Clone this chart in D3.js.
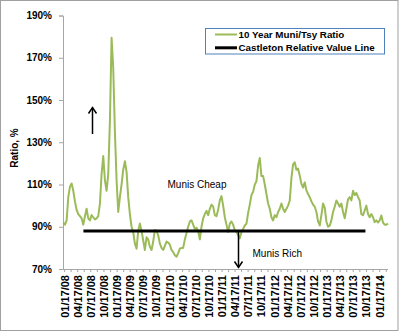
<!DOCTYPE html>
<html>
<head>
<meta charset="utf-8">
<script src="https://cdn.jsdelivr.net/npm/d3@7/dist/d3.min.js"></script>
<style>
  html, body { margin: 0; padding: 0; background: #fff; }
  svg { display: block; font-family: "Liberation Sans", Arial, sans-serif; }
</style>
</head>
<body>
<svg id="chart" width="400" height="333"></svg>
<script>
// ---- Data ----
const firstObs = "2008-01-08";
const lastObs = "2014-03-16";
const ratio = [
  92, 91, 93, 104, 109, 110.5, 107, 102, 98, 96, 95, 94, 91, 95, 98.5, 94, 93, 95.5, 94.5, 93.5,
  94, 95, 101, 115, 123.5, 112, 107, 115, 140, 179.5, 165, 135, 112, 97, 104, 110, 117, 121, 116, 104,
  96, 90,
  87.4, 82, 79.6, 88, 91.5, 88, 83.5, 79, 85, 84, 80.5, 79, 83, 88.5, 88, 86, 82, 80, 79, 81,
  83, 82.5, 81.5, 79, 78, 76.5, 75.8, 77.5, 79.6, 80, 80, 84, 87, 90, 92.5, 93, 91, 89, 89.5, 88, 84,
  90, 94, 96, 97.5, 95.5, 98.5, 100.5, 99.5, 95.5, 95, 98, 102.5, 104.5, 100, 94.5, 91, 87.5, 91.5,
  92.5, 91, 88.2, 87.5, 86, 84.5, 87.5, 89, 90.6, 91.5, 96.5, 100.5, 105, 106.5, 110, 111.5, 119, 122.5, 114, 114,
  110, 105.5, 101, 98.5, 94.5, 93, 95.5, 94.5, 97, 98.5, 101, 98.5, 97, 98.5, 100, 102.4, 113, 119.5, 120.5, 117,
  117.5, 114.3, 110.3, 108.5, 111, 107.2, 105.5, 104, 102, 100.5, 99.5, 97, 92.5, 90.6,
  95.5, 101, 99, 92.5, 90, 90.5, 93, 97, 99.5, 102.4, 101, 99.5, 101, 97, 94, 98.5, 103, 104, 102.5, 107,
  105, 106, 104, 102.4, 96, 95.5, 97.7, 100, 96, 94.5, 96, 94.5, 92.2, 93, 92, 93, 95.3, 92, 91, 91, 91.5
];
const valueLineLevel = 88;
const valueLineStart = "2008-05-27";
const valueLineEnd = "2013-10-10";
const xTickLabels = [
  "2008-01-17","2008-04-17","2008-07-17","2008-10-17",
  "2009-01-17","2009-04-17","2009-07-17","2009-10-17",
  "2010-01-17","2010-04-17","2010-07-17","2010-10-17",
  "2011-01-17","2011-04-17","2011-07-17","2011-10-17",
  "2012-01-17","2012-04-17","2012-07-17","2012-10-17",
  "2013-01-17","2013-04-17","2013-07-17","2013-10-17",
  "2014-01-17"
];
const yTicks = [70, 90, 110, 130, 150, 170, 190];
const seriesNames = ["10 Year Muni/Tsy Ratio", "Castleton Relative Value Line"];
const annotations = { cheap: "Munis Cheap", rich: "Munis Rich" };
const yTitle = "Ratio, %";

// ---- Drawing ----
const parse = d3.timeParse("%Y-%m-%d");
const fmt = d3.timeFormat("%m/%d/%y");
const svg = d3.select("#chart");
const green = "#9bbb59";

const x = d3.scaleTime()
  .domain([parse("2008-01-06"), parse("2014-03-16")])
  .range([63, 388]);
const y = d3.scaleLinear().domain([70, 190]).range([269, 15.5]);

const t0 = parse(firstObs).getTime(), t1 = parse(lastObs).getTime();
const data = ratio.map((v, i) => ({
  date: new Date(t0 + (t1 - t0) * i / (ratio.length - 1)),
  v
}));

// outer border
svg.append("rect").attr("x", 0.5).attr("y", 0.5).attr("width", 397.5).attr("height", 330)
  .attr("fill", "none").attr("stroke", "#a0a0a0").attr("stroke-width", 1);

// Y axis
const yAxis = svg.append("g").attr("transform", "translate(63,0)")
  .call(d3.axisLeft(y).tickValues(yTicks).tickSize(4).tickPadding(7).tickFormat(d => d + "%"));
yAxis.select(".domain").attr("stroke", "#a6a6a6");
yAxis.selectAll(".tick line").attr("stroke", "#a6a6a6");
yAxis.selectAll("text").attr("font-size", 10).attr("font-weight", "bold").attr("fill", "#000")
  .attr("font-family", "'Liberation Sans', Arial, sans-serif");

// X axis
const labelDates = xTickLabels.map(parse);
const tickXs = [];
labelDates.forEach((d, i) => {
  tickXs.push(x(d));
  const next = i < labelDates.length - 1 ? x(labelDates[i + 1]) : x(d) + (x(d) - x(labelDates[i - 1]));
  const mid = (x(d) + next) / 2;
  if (mid <= 388) tickXs.push(mid);
});
const xAxis = svg.append("g").attr("transform", "translate(0,269)");
xAxis.append("line").attr("x1", 63).attr("x2", 388).attr("y1", 0.5).attr("y2", 0.5)
  .attr("stroke", "#a6a6a6");
xAxis.selectAll("line.tk").data(tickXs).join("line").attr("class", "tk")
  .attr("x1", d => d).attr("x2", d => d).attr("y1", 0.5).attr("y2", 3)
  .attr("stroke", "#a6a6a6");
xAxis.selectAll("text").data(labelDates).join("text")
  .attr("transform", d => `translate(${x(d)},6) rotate(-90)`)
  .attr("text-anchor", "end").attr("dy", "0.36em")
  .attr("font-size", 11).attr("font-weight", "bold").attr("fill", "#000")
  .text(d => fmt(d));

// Y title
svg.append("text").attr("transform", "translate(14,148) rotate(-90)")
  .attr("text-anchor", "middle").attr("dy", "0.36em")
  .attr("font-size", 10).attr("font-weight", "bold").text(yTitle);

// series line
const line = d3.line().x(d => x(d.date)).y(d => y(d.v)).curve(d3.curveLinear);
svg.append("path").datum(data).attr("d", line)
  .attr("fill", "none").attr("stroke", green).attr("stroke-width", 2).attr("stroke-linejoin", "round");

// relative value line
svg.append("line")
  .attr("x1", x(parse(valueLineStart))).attr("x2", x(parse(valueLineEnd)))
  .attr("y1", y(valueLineLevel)).attr("y2", y(valueLineLevel))
  .attr("stroke", "#000").attr("stroke-width", 3);

// arrows
function arrow(xp, yFrom, yTo) {
  const g = svg.append("g").attr("stroke", "#000").attr("stroke-width", 1.5).attr("fill", "none");
  g.append("line").attr("x1", xp).attr("x2", xp).attr("y1", yFrom).attr("y2", yTo);
  const dir = yTo < yFrom ? 1 : -1;
  g.append("path").attr("d", `M${xp - 4},${yTo + dir * 6} L${xp},${yTo} L${xp + 4},${yTo + dir * 6}`);
}
arrow(92.5, 134, 107.5);
arrow(238.5, 232, 267.5);

// annotations
svg.append("text").attr("x", 197).attr("y", 188).attr("text-anchor", "middle")
  .attr("font-size", 10).attr("fill", "#000").text(annotations.cheap);
svg.append("text").attr("x", 252.5).attr("y", 257).attr("text-anchor", "start")
  .attr("font-size", 10).attr("fill", "#000").text(annotations.rich);

// legend
const lg = svg.append("g");
lg.append("rect").attr("x", 205.5).attr("y", 28.5).attr("width", 179).attr("height", 25.5)
  .attr("fill", "#fff").attr("stroke", "#4f81bd").attr("stroke-width", 1);
const lcolors = [green, "#000"];
const lwidths = [2, 3];
seriesNames.forEach((name, i) => {
  const yy = 34.5 + i * 13.3;
  lg.append("line").attr("x1", 215).attr("x2", 237).attr("y1", yy).attr("y2", yy)
    .attr("stroke", lcolors[i]).attr("stroke-width", lwidths[i]);
  lg.append("text").attr("x", 238.5).attr("y", yy).attr("dy", "0.36em")
    .attr("font-size", 9.8).attr("font-weight", "bold").attr("fill", "#000").text(name);
});
</script>
</body>
</html>
